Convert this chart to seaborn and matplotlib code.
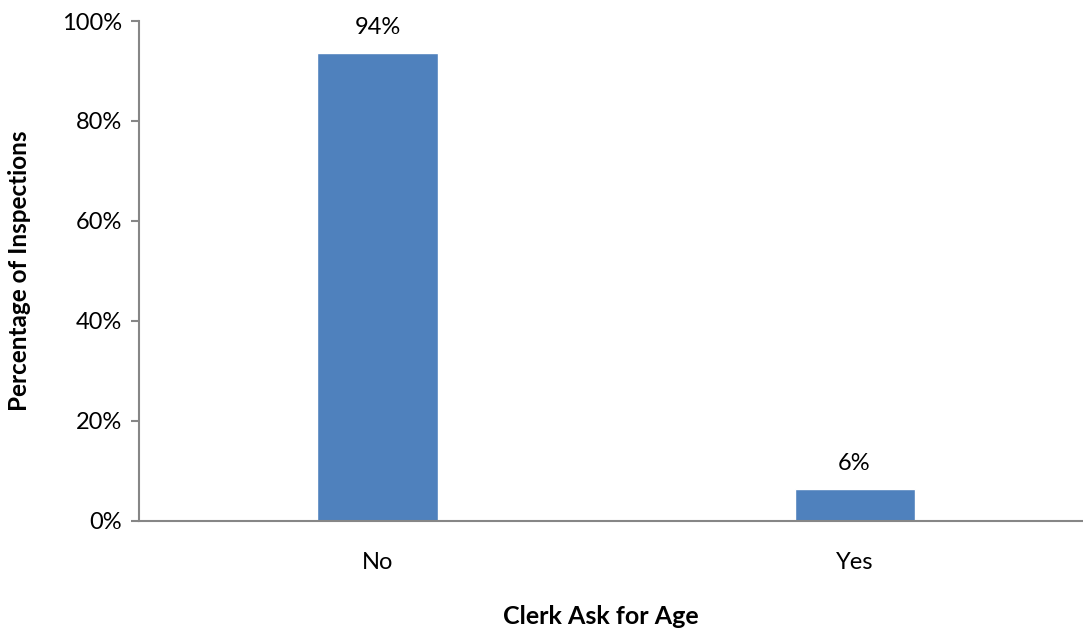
import matplotlib
matplotlib.use("Agg")
import matplotlib.pyplot as plt
import seaborn as sns
import pandas as pd

categories = ["No", "Yes"]
values = [0.936, 0.063]
labels = ["94%", "6%"]
yticks = [0, 0.2, 0.4, 0.6, 0.8, 1.0]
ytick_labels = ["0%", "20%", "40%", "60%", "80%", "100%"]

sns.set_theme(style="white")
plt.rcParams['font.family'] = ['Lato', 'DejaVu Sans']

df = pd.DataFrame({"cat": categories, "val": values})

fig = plt.figure(figsize=(10.83, 6.32), dpi=100)
ax = fig.add_axes([139/1083, (632-520.5)/632, 1 - 139/1083, (520.5-21)/632])

sns.barplot(data=df, x="cat", y="val", color="#4F81BD", saturation=1, width=0.2516, ax=ax)

ax.set_xlim(-0.5, 1.479)
ax.set_ylim(0, 1.0)
ax.set_yticks(yticks)
ax.set_yticklabels(ytick_labels, fontsize=17, color="#000000")
ax.tick_params(axis="y", length=6, width=1.5, color="#868686", pad=6, left=True)
ax.tick_params(axis="x", length=0, pad=23, labelsize=17, labelcolor="#000000")

for s in ["top", "right"]:
    ax.spines[s].set_visible(False)
for s in ["left", "bottom"]:
    ax.spines[s].set_color("#868686")
    ax.spines[s].set_linewidth(1.5)

for i, (v, t) in enumerate(zip(values, labels)):
    ax.annotate(t, (i, v), xytext=(0, 11), textcoords="offset points",
                ha="center", va="bottom", fontsize=17, color="#000000")

ax.set_xlabel("Clerk Ask for Age", fontsize=18, fontweight="bold", color="#000000")
ax.set_ylabel("Percentage of Inspections", fontsize=17.5, fontweight="bold", color="#000000")
ax.xaxis.set_label_coords((601 - 139) / 944, -(617 - 520.5) / 499.5)
ax.yaxis.set_label_coords(-(139 - 20) / 944, 0.5)
ax.xaxis.label.set_va("center")
ax.yaxis.label.set_va("center")

fig.savefig("out.png", dpi=100, facecolor="white")
